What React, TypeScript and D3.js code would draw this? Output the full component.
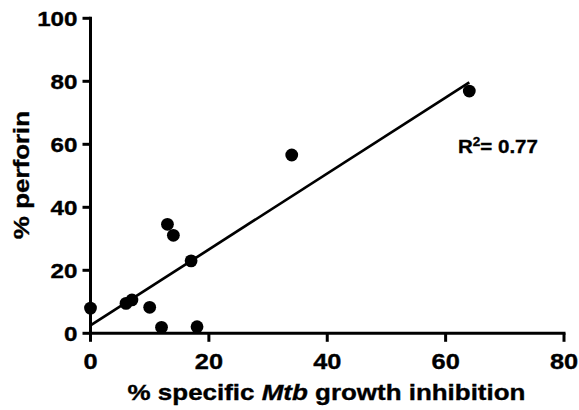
import React from "react";
import * as d3 from "d3";

const xValues = [0, 6, 7, 10, 12, 13, 14, 17, 18, 34, 64];
const yValues = [8, 9.5, 10.6, 8.25, 1.9, 34.6, 31.1, 23, 2.1, 56.6, 76.9];
const xTicks = [0, 20, 40, 60, 80];
const yTicks = [0, 20, 40, 60, 80, 100];
const xTitleParts = ["% specific ", "Mtb", " growth inhibition"];
const yTitle = "% perforin";
const r2Label = "0.77";

const W = 579;
const H = 410;
const FONT = "'Liberation Sans', Arial, Helvetica, sans-serif";
const SX = 1.18;

export default function App() {
  const x = d3.scaleLinear().domain([0, 80]).range([90.5, 564]);
  const y = d3.scaleLinear().domain([0, 100]).range([333.3, 18.3]);

  const mx = d3.mean(xValues) as number;
  const my = d3.mean(yValues) as number;
  let sxy = 0;
  let sxx = 0;
  xValues.forEach((v, i) => {
    sxy += (v - mx) * (yValues[i] - my);
    sxx += (v - mx) * (v - mx);
  });
  const slope = sxy / sxx;
  const intercept = my - slope * mx;
  const x0 = d3.min(xValues) as number;
  const x1 = d3.max(xValues) as number;
  const line = d3
    .line<number>()
    .x((d) => x(d))
    .y((d) => y(intercept + slope * d));

  const x0px = x(0);
  const y0px = y(0);

  return (
    <svg
      width={W}
      height={H}
      style={{ position: "absolute", left: 0, top: 0, background: "#fff" }}
      fontFamily={FONT}
      fontWeight="bold"
    >
      {/* regression line */}
      <path d={line([x0, x1]) || ""} fill="none" stroke="#000" strokeWidth={2.7} />
      {/* points */}
      {xValues.map((v, i) => (
        <circle key={i} cx={x(v)} cy={y(yValues[i])} r={6.4} fill="#000" />
      ))}
      <g stroke="#000" strokeWidth={0.35}>
        {/* y axis */}
        <line x1={x0px} x2={x0px} y1={y(0) + 1.5} y2={y(100) - 1.5} stroke="#000" strokeWidth={3} />
        {yTicks.map((t) => (
          <g key={t}>
            <line x1={x0px - 8} x2={x0px} y1={y(t)} y2={y(t)} stroke="#000" strokeWidth={3} />
            <g transform={`translate(${x0px - 13}, ${y(t)}) scale(${SX}, 1)`}>
              <text dy="0.36em" textAnchor="end" fontSize={20.5}>
                {t}
              </text>
            </g>
          </g>
        ))}
        {/* x axis */}
        <line x1={x0px - 1.5} x2={x(80) + 1.5} y1={y0px} y2={y0px} stroke="#000" strokeWidth={3} />
        {xTicks.map((t) => (
          <g key={t}>
            <line x1={x(t)} x2={x(t)} y1={y0px} y2={y0px + 8.5} stroke="#000" strokeWidth={3} />
            <g transform={`translate(${x(t)}, 368.5) scale(${SX}, 1)`}>
              <text textAnchor="middle" fontSize={21.5}>
                {t}
              </text>
            </g>
          </g>
        ))}
        {/* axis titles */}
        <g transform={`translate(326.5, 400) scale(${SX}, 1)`}>
          <text textAnchor="middle" fontSize={22}>
            {xTitleParts[0]}
            <tspan fontStyle="italic">{xTitleParts[1]}</tspan>
            {xTitleParts[2]}
          </text>
        </g>
        <g transform={`translate(29, 175) rotate(-90) scale(${SX}, 1)`}>
          <text textAnchor="middle" fontSize={22}>
            {yTitle}
          </text>
        </g>
        {/* R squared */}
        <g transform={`translate(458, 153.3) scale(1.08, 1)`}>
          <text fontSize={19}>
            R<tspan dy={-7.5} fontSize={12.5}>2</tspan>
            <tspan dy={7.5}>= {r2Label}</tspan>
          </text>
        </g>
      </g>
    </svg>
  );
}
